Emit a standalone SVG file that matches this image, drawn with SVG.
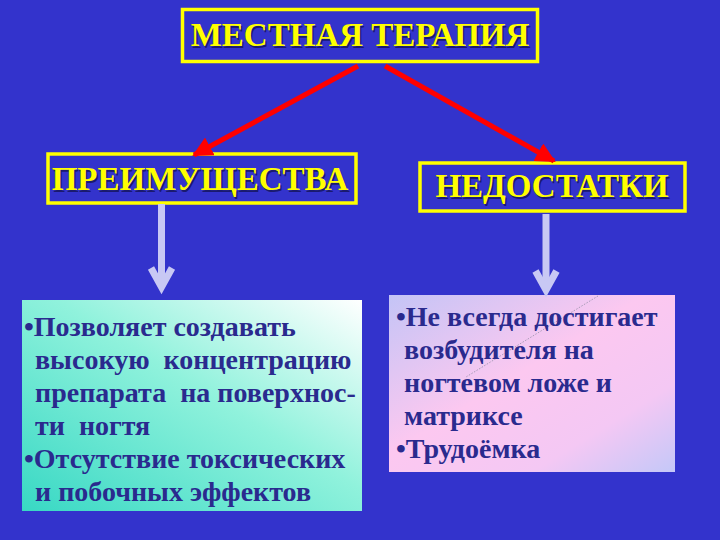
<svg xmlns="http://www.w3.org/2000/svg" width="720" height="540" viewBox="0 0 720 540">
<defs>
<style>
.hbox{fill:none;stroke:#ffff00;stroke-width:3.5}
.htext{font-family:"Liberation Serif","Times New Roman",serif;font-weight:bold;font-size:33px;fill:#ffff00}
.hshadow{font-family:"Liberation Serif","Times New Roman",serif;font-weight:bold;font-size:33px;fill:#1a1a70}
.btext{font-family:"Liberation Serif","Times New Roman",serif;font-weight:bold;font-size:28px;fill:#2a2a8e}
.red{stroke:#ff0000;stroke-width:5;fill:none}
.light{stroke:#c8c8f4;stroke-width:7;fill:none}
</style>
<linearGradient id="gLeft" x1="1" y1="0" x2="0" y2="1">
<stop offset="0" stop-color="#ffffff"/>
<stop offset="0.45" stop-color="#90f2dc"/>
<stop offset="1" stop-color="#38d8c4"/>
</linearGradient>
<linearGradient id="gRight" x1="0" y1="0" x2="1" y2="1">
<stop offset="0" stop-color="#c4c4f6"/>
<stop offset="0.45" stop-color="#fcc8f0"/>
<stop offset="0.75" stop-color="#f4c8f4"/>
<stop offset="1" stop-color="#c4c8f8"/>
</linearGradient>
<marker id="redHead" viewBox="0 0 10 10" refX="9" refY="5" markerWidth="4" markerHeight="4" orient="auto" markerUnits="strokeWidth">
<path d="M0,0 L10,5 L0,10 z" fill="#ff0000"/>
</marker>
</defs>
<rect width="720" height="540" fill="#3333cc"/>

<g id="node-top">
<rect class="hbox" x="182.5" y="9.5" width="355" height="52"/>
<text class="hshadow" x="361.5" y="47.5" text-anchor="middle">МЕСТНАЯ ТЕРАПИЯ</text>
<text class="htext" x="360" y="46" text-anchor="middle">МЕСТНАЯ ТЕРАПИЯ</text>
</g>

<g id="node-adv">
<rect class="hbox" x="48" y="154" width="308" height="49"/>
<text class="hshadow" x="201.5" y="191.5" text-anchor="middle">ПРЕИМУЩЕСТВА</text>
<text class="htext" x="200" y="190" text-anchor="middle">ПРЕИМУЩЕСТВА</text>
</g>

<g id="node-dis">
<rect class="hbox" x="420" y="163" width="265" height="48"/>
<text class="hshadow" x="553.5" y="198.5" text-anchor="middle">НЕДОСТАТКИ</text>
<text class="htext" x="552" y="197" text-anchor="middle">НЕДОСТАТКИ</text>
</g>

<g id="node-adv-list">
<rect x="22" y="300" width="340" height="211" fill="url(#gLeft)"/>
<text class="btext" x="24" y="336">•Позволяет создавать</text>
<text class="btext" x="35" y="369" xml:space="preserve">высокую  концентрацию</text>
<text class="btext" x="35" y="402" xml:space="preserve">препарата  на поверхнос-</text>
<text class="btext" x="35" y="435" xml:space="preserve">ти  ногтя</text>
<text class="btext" x="24" y="468">•Отсутствие токсических</text>
<text class="btext" x="35" y="501">и побочных эффектов</text>
</g>

<g id="node-dis-list">
<rect x="389" y="295" width="286" height="177" fill="url(#gRight)"/>
<line x1="598" y1="296" x2="466" y2="377" stroke="#8a8aa0" stroke-width="1" stroke-dasharray="1.5 1.5" opacity="0.7"/>
<text class="btext" x="396" y="326">•Не всегда достигает</text>
<text class="btext" x="404" y="359">возбудителя на</text>
<text class="btext" x="404" y="392">ногтевом ложе и</text>
<text class="btext" x="404" y="425">матриксе</text>
<text class="btext" x="396" y="458">•Трудоёмка</text>
</g>

<g id="connectors">
<line class="red" x1="358" y1="66" x2="194" y2="155" marker-end="url(#redHead)"/>
<line class="red" x1="385" y1="66" x2="554" y2="161" marker-end="url(#redHead)"/>
<line class="light" x1="161.5" y1="204" x2="161.5" y2="287"/>
<polyline class="light" points="151,268 161.5,287 172,268"/>
<line class="light" x1="546" y1="214" x2="546" y2="290"/>
<polyline class="light" points="535.5,271 546,290 556.5,271"/>
</g>
</svg>
